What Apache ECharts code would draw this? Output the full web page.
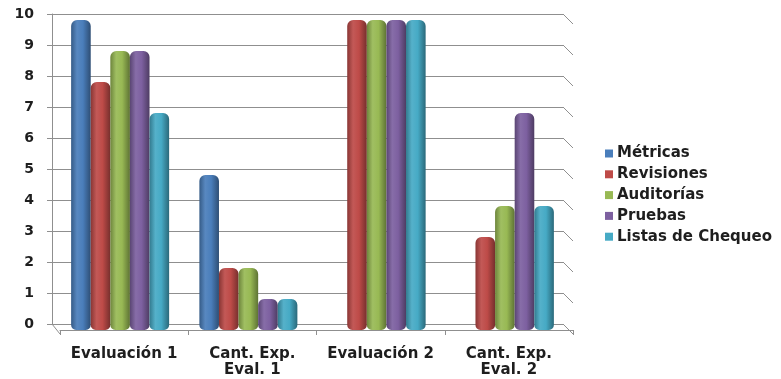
<!DOCTYPE html>
<html>
<head>
<meta charset="utf-8">
<script src="https://cdn.jsdelivr.net/npm/echarts@6/dist/echarts.min.js"></script>
<style>
  html, body { margin: 0; padding: 0; background: #fff; }
  #chart { width: 781px; height: 379px; }
</style>
</head>
<body>
<div id="chart"></div>
<script>
// Categories and series values
const categories = ['Evaluación 1', 'Cant. Exp.\nEval. 1', 'Evaluación 2', 'Cant. Exp.\nEval. 2'];
const seriesNames = ['Métricas', 'Revisiones', 'Auditorías', 'Pruebas', 'Listas de Chequeo'];
const metricas = [10, 5, 0, 0];
const revisiones = [8, 2, 10, 3];
const auditorias = [9, 2, 10, 4];
const pruebas = [9, 1, 10, 7];
const listas = [7, 1, 10, 4];
const yMin = 0, yMax = 10, yStep = 1;

const seriesValues = [metricas, revisiones, auditorias, pruebas, listas];
const baseColors = ['#4A7EBB', '#BE4B48', '#98B954', '#7D60A0', '#46AAC5'];

const FONT = '"DejaVu Sans", "Liberation Sans", Arial, sans-serif';
const TEXT = '#1e1e1e';
const LINE = '#8f8f8f';

function shade(hex, f) {
  const n = parseInt(hex.slice(1), 16);
  let r = (n >> 16) & 255, g = (n >> 8) & 255, b = n & 255;
  const adj = c => f >= 1 ? Math.round(c + (255 - c) * (f - 1)) : Math.round(c * f);
  r = adj(r); g = adj(g); b = adj(b);
  return 'rgb(' + r + ',' + g + ',' + b + ')';
}

// Horizontal shading that gives each bar a rounded, cylinder-like look
function cylinder(hex) {
  return new echarts.graphic.LinearGradient(0, 0, 1, 0, [
    { offset: 0, color: shade(hex, 0.72) },
    { offset: 0.3, color: shade(hex, 1.08) },
    { offset: 0.6, color: hex },
    { offset: 1, color: shade(hex, 0.62) }
  ]);
}

// Layout of the back wall, the floor frame and the bar block
const W = 781;
const wall = { left: 52, right: 218, top: 14, bottom: 55 };
const floor = { left: 60, right: 208, top: 20, bottom: 49 };
const bars = { left: 56, right: 212, top: 20, bottom: 49 };

const chart = echarts.init(document.getElementById('chart'), null, { renderer: 'canvas' });

const option = {
  backgroundColor: '#ffffff',
  animation: false,
  legend: {
    orient: 'vertical',
    left: 600,
    top: 141,
    icon: 'rect',
    itemWidth: 8,
    itemHeight: 8,
    itemGap: 5.8,
    data: seriesNames.map((name, i) => ({ name: name, itemStyle: { color: baseColors[i] } })),
    textStyle: { fontFamily: FONT, fontWeight: 'bold', fontSize: 15, color: TEXT, lineHeight: 15, padding: [0, 0, 0, -1] }
  },
  grid: [
    Object.assign({ containLabel: false }, wall),
    Object.assign({ containLabel: false }, floor),
    Object.assign({ containLabel: false }, bars)
  ],
  xAxis: [
    { gridIndex: 0, type: 'category', data: categories, show: false },
    {
      gridIndex: 1, type: 'category', data: categories, offset: 4,
      axisLine: { show: true, lineStyle: { color: LINE, width: 1 } },
      axisTick: { show: true, length: 5, lineStyle: { color: LINE } },
      axisLabel: { interval: 0, fontFamily: FONT, fontWeight: 'bold', fontSize: 15, color: TEXT, lineHeight: 16, margin: 12 }
    },
    { gridIndex: 2, type: 'category', data: categories, show: false }
  ],
  yAxis: [
    {
      gridIndex: 0, type: 'value', min: yMin, max: yMax, interval: yStep,
      axisLine: { show: true, lineStyle: { color: LINE, width: 1 } },
      axisTick: { show: true, length: 5, lineStyle: { color: LINE } },
      splitLine: { show: true, lineStyle: { color: LINE, width: 1 } },
      axisLabel: { fontFamily: FONT, fontWeight: 'bold', fontSize: 14, color: TEXT, margin: 18 }
    },
    { gridIndex: 1, type: 'value', min: yMin, max: yMax, show: false, splitLine: { show: false } },
    { gridIndex: 2, type: 'value', min: yMin, max: yMax, show: false, splitLine: { show: false } }
  ],
  series: seriesNames.map((name, i) => ({
    name: name,
    type: 'bar',
    xAxisIndex: 2,
    yAxisIndex: 2,
    data: seriesValues[i],
    barWidth: 19.6,
    barGap: '0%',
    itemStyle: { color: cylinder(baseColors[i]), borderRadius: [6, 6, 5, 5] }
  })),
  color: baseColors
};

chart.setOption(option);

// Floor and side-wall edges, placed from the value axis scale
function drawEdges() {
  const lines = [];
  const xr = W - wall.right;
  const depth = 10;
  for (let v = yMin; v <= yMax; v += yStep) {
    const y = chart.convertToPixel({ yAxisIndex: 0 }, v);
    lines.push({
      type: 'line',
      shape: { x1: xr, y1: y, x2: xr + depth, y2: y + depth },
      style: { stroke: LINE, lineWidth: 1 },
      silent: true
    });
  }
  const y0 = chart.convertToPixel({ yAxisIndex: 0 }, yMin);
  lines.push({
    type: 'line',
    shape: { x1: wall.left, y1: y0, x2: floor.left, y2: y0 + depth },
    style: { stroke: LINE, lineWidth: 1 },
    silent: true
  });
  chart.setOption({ graphic: lines });
}
drawEdges();
</script>
</body>
</html>
